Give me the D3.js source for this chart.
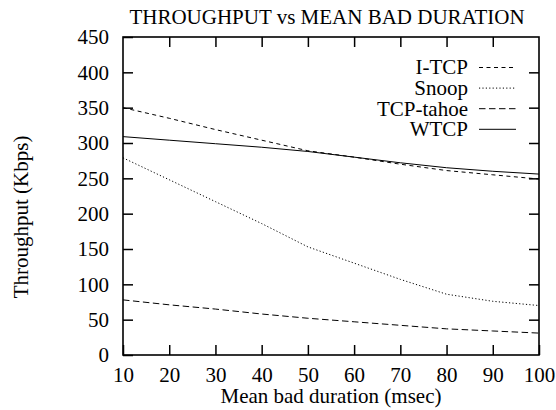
<!DOCTYPE html>
<html>
<head>
<meta charset="utf-8">
<script src="https://cdn.jsdelivr.net/npm/d3@7"></script>
<style>
  @font-face { font-family: "ChartSerif"; src: local("Liberation Serif"), local("LiberationSerif"), local("Tinos"); }
  html, body { margin: 0; padding: 0; background: #fff; }
  svg { display: block; }
</style>
</head>
<body>
<svg id="chart" width="556" height="410"></svg>
<script>
// Mean bad duration (msec) on the x axis
const durations = [10, 20, 30, 40, 50, 60, 70, 80, 90, 100];

// Throughput (Kbps) for each protocol
const itcp     = [350, 335, 319, 304, 289, 280, 270, 261, 255, 249];
const snoop    = [279, 248, 217, 186, 153, 130, 107, 86, 76, 70];
const tcpTahoe = [78, 71, 65, 58, 52, 47, 42, 37, 34, 31];
const wtcp     = [309, 304, 299, 294, 288, 280, 272, 265, 260, 256];

const seriesNames = ["I-TCP", "Snoop", "TCP-tahoe", "WTCP"];
const seriesValues = [itcp, snoop, tcpTahoe, wtcp];
const dashPatterns = ["4,3.5", "1.2,2.2", "6.5,3.5", null];

const xTicks = [10, 20, 30, 40, 50, 60, 70, 80, 90, 100];
const yTicks = [0, 50, 100, 150, 200, 250, 300, 350, 400, 450];

const svg = d3.select("#chart");
const plotLeft = 123, plotRight = 539, plotTop = 37, plotBottom = 355;
const fontPx = 21;
const serifStack = "'Liberation Serif', ChartSerif, Tinos, 'Times New Roman', serif";

function serifText(sel) {
  return sel
    .attr("font-family", serifStack)
    .attr("font-size", fontPx)
    .attr("fill", "#000")
    .style("font-family", serifStack, "important")
    .style("font-size", fontPx + "px", "important");
}

const x = d3.scaleLinear().domain([10, 100]).range([plotLeft, plotRight]);
const y = d3.scaleLinear().domain([0, 450]).range([plotBottom, plotTop]);

// Title
svg.append("text")
  .attr("x", 327).attr("y", 24)
  .attr("text-anchor", "middle")
  .call(serifText)
  .text("THROUGHPUT vs MEAN BAD DURATION");

// Axes with inward ticks, mirrored on the opposite sides
const tickLen = 10;
const axisBottom = d3.axisBottom(x).tickValues(xTicks).tickSizeInner(-tickLen).tickSizeOuter(0).tickPadding(12);
const axisLeft = d3.axisLeft(y).tickValues(yTicks).tickSizeInner(-tickLen).tickSizeOuter(0).tickPadding(14);
const axisTop = d3.axisTop(x).tickValues(xTicks.slice(1, -1)).tickSizeInner(-tickLen).tickSizeOuter(0).tickFormat("");
const axisRight = d3.axisRight(y).tickValues(yTicks.slice(1, -1)).tickSizeInner(-tickLen).tickSizeOuter(0).tickFormat("");

function styleAxis(g) {
  g.attr("font-family", serifStack).attr("font-size", fontPx);
  g.select(".domain").remove();
  g.selectAll(".tick line").attr("stroke", "#000").attr("stroke-width", 1.5);
  g.selectAll(".tick text").call(serifText);
}

svg.append("g").attr("transform", `translate(0,${plotBottom})`).call(axisBottom).call(styleAxis)
  .selectAll(".tick text").attr("dy", "0.71em");
svg.append("g").attr("transform", `translate(${plotLeft},0)`).call(axisLeft).call(styleAxis);
svg.append("g").attr("transform", `translate(0,${plotTop})`).call(axisTop).call(styleAxis);
svg.append("g").attr("transform", `translate(${plotRight},0)`).call(axisRight).call(styleAxis);

// Plot frame
svg.append("rect")
  .attr("x", plotLeft).attr("y", plotTop)
  .attr("width", plotRight - plotLeft).attr("height", plotBottom - plotTop)
  .attr("fill", "none").attr("stroke", "#000").attr("stroke-width", 1.6);

// Axis titles
svg.append("text")
  .attr("x", 331).attr("y", 403)
  .attr("text-anchor", "middle")
  .call(serifText)
  .text("Mean bad duration (msec)");

svg.append("text")
  .attr("transform", "translate(28,217) rotate(-90)")
  .attr("text-anchor", "middle")
  .call(serifText)
  .text("Throughput (Kbps)");

// Series lines
const line = d3.line().x((d, i) => x(durations[i])).y(d => y(d));
seriesValues.forEach((vals, k) => {
  svg.append("path")
    .datum(vals)
    .attr("d", line)
    .attr("fill", "none")
    .attr("stroke", "#000")
    .attr("stroke-width", 1)
    .attr("stroke-dasharray", dashPatterns[k]);
});

// Legend
const legendTextX = 468, legendLineX0 = 479, legendLineX1 = 516;
const legendY0 = 67.5, legendStep = 20.6;
seriesNames.forEach((name, k) => {
  const cy = legendY0 + k * legendStep;
  svg.append("text")
    .attr("x", legendTextX).attr("y", cy)
    .attr("dy", "0.33em")
    .attr("text-anchor", "end")
    .call(serifText)
    .text(name);
  svg.append("line")
    .attr("x1", legendLineX0).attr("x2", legendLineX1)
    .attr("y1", cy).attr("y2", cy)
    .attr("stroke", "#000").attr("stroke-width", 1)
    .attr("stroke-dasharray", dashPatterns[k]);
});
</script>
</body>
</html>
